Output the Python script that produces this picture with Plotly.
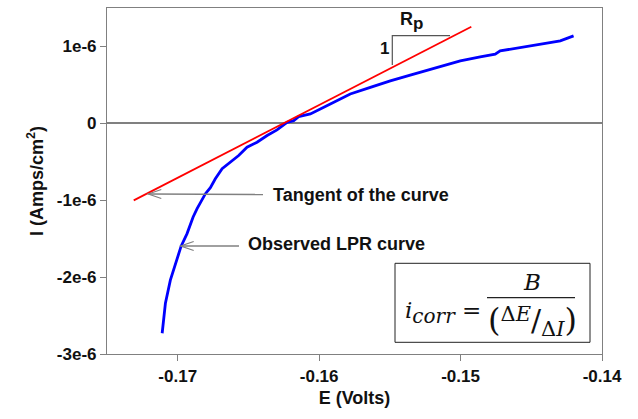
import plotly.graph_objects as go

# Observed LPR curve (E in volts, I in A/cm^2)
E_obs = [-0.17110, -0.17087, -0.17052, -0.17016, -0.16976, -0.16934, -0.16891,
         -0.16863, -0.16828, -0.16804, -0.16769, -0.16734, -0.16686, -0.16628,
         -0.16569, -0.16510, -0.16439, -0.16368, -0.16298, -0.16227, -0.16180,
         -0.16145, -0.16062, -0.15921, -0.15780, -0.15638, -0.15497, -0.15356,
         -0.15214, -0.15108, -0.15002, -0.14861, -0.14755, -0.14720, -0.14578,
         -0.14437, -0.14295, -0.14201]
I_obs = [-2.730e-6, -2.341e-6, -2.039e-6, -1.822e-6, -1.598e-6, -1.434e-6, -1.218e-6,
         -1.110e-6, -1.002e-6, -0.915e-6, -0.837e-6, -0.721e-6, -0.591e-6, -0.506e-6,
         -0.419e-6, -0.311e-6, -0.246e-6, -0.159e-6, -0.086e-6, 0.013e-6, 0.035e-6,
         0.087e-6, 0.122e-6, 0.251e-6, 0.381e-6, 0.467e-6, 0.553e-6, 0.627e-6,
         0.705e-6, 0.757e-6, 0.813e-6, 0.865e-6, 0.900e-6, 0.942e-6, 0.985e-6,
         1.029e-6, 1.072e-6, 1.137e-6]

# Tangent line
E_tan = [-0.17311, -0.14924]
I_tan = [-1.002e-6, 1.257e-6]

x_ticks = [-0.17, -0.16, -0.15, -0.14]
x_tick_text = ["-0.17", "-0.16", "-0.15", "-0.14"]
y_ticks = [-3e-6, -2e-6, -1e-6, 0, 1e-6]
y_tick_text = ["-3e-6", "-2e-6", "-1e-6", "0", "1e-6"]

X_RANGE = [-0.175, -0.14]
Y_RANGE = [-3e-6, 1.5e-6]

W, H = 638, 419
ML, MR, MT, MB = 107, 36, 8, 65
PW = W - ML - MR
PH = H - MT - MB


def px(xp):
    return X_RANGE[0] + (xp - ML) / PW * (X_RANGE[1] - X_RANGE[0])


def py(yp):
    return Y_RANGE[1] - (yp - MT) / PH * (Y_RANGE[1] - Y_RANGE[0])


fig = go.Figure()
fig.add_trace(go.Scatter(x=E_obs, y=I_obs, mode="lines",
                         line=dict(color="#0000FF", width=2.8), showlegend=False))
fig.add_trace(go.Scatter(x=E_tan, y=I_tan, mode="lines",
                         line=dict(color="#FF0000", width=1.8), showlegend=False))

sans = dict(family="Liberation Sans, Arial, sans-serif", size=17, color="#111111")
gray = "#808080"
shapes = []
annotations = []

# Rp triangle
shapes.append(dict(type="path", xref="x", yref="y",
                   path=f"M {px(392.3)},{py(65)} L {px(392.3)},{py(35.7)} L {px(450)},{py(35.7)}",
                   line=dict(color="#555555", width=1.2)))
annotations.append(dict(x=px(384), y=py(48), xref="x", yref="y", text="<b>1</b>",
                        showarrow=False, font=sans))
annotations.append(dict(x=px(411), y=py(21), xref="x", yref="y",
                        text="<b>R<sub><span style='font-size:17px'>p</span></sub></b>",
                        showarrow=False, font=dict(sans, size=18)))

# arrows
def arrow(tipx, tipy, tailx, taily):
    shapes.append(dict(type="line", xref="x", yref="y", x0=px(tipx), y0=py(tipy),
                       x1=px(tailx), y1=py(taily), line=dict(color=gray, width=1.5)))
    shapes.append(dict(type="path", xref="x", yref="y",
                       path=f"M {px(tipx + 13)},{py(tipy - 4.5)} L {px(tipx)},{py(tipy)} L {px(tipx + 13)},{py(tipy + 4.5)}",
                       line=dict(color=gray, width=1.2)))

arrow(148.3, 194, 263, 194.5)
arrow(180.7, 246, 239, 246)

annotations.append(dict(x=px(271), y=py(195), xref="x", yref="y", xanchor="left",
                        text="<b>Tangent of the curve</b>", showarrow=False, font=dict(sans, size=18)))
annotations.append(dict(x=px(246), y=py(244), xref="x", yref="y", xanchor="left",
                        text="<b>Observed LPR curve</b>", showarrow=False, font=dict(sans, size=18)))

# formula box
shapes.append(dict(type="rect", xref="x", yref="y", x0=px(395), y0=py(263.3), x1=px(590), y1=py(342.3),
                   line=dict(color="#222222", width=1), fillcolor="white", layer="above"))
shapes.append(dict(type="line", xref="x", yref="y", x0=px(487), y0=py(297.7), x1=px(575), y1=py(297.7),
                   line=dict(color="#222222", width=1.2)))
serif = dict(family="DejaVu Serif, Liberation Serif, serif", size=23, color="#111111", weight="normal")
annotations.append(dict(x=px(403), y=py(312), xref="x", yref="y", xanchor="left",
                        text="<i>i</i><sub><span style='font-size:20px'><i>corr</i></span></sub> =",
                        showarrow=False, font=serif))
annotations.append(dict(x=px(532), y=py(282), xref="x", yref="y",
                        text="<i>B</i>", showarrow=False, font=serif))
annotations.append(dict(x=px(532), y=py(321), xref="x", yref="y",
                        text="<span style='font-size:32px'>(</span>"
                             "<sup><span style='font-size:21px'>Δ<i>E</i></span></sup>"
                             "<span style='font-size:30px'>/</span>"
                             "<sub><span style='font-size:21px'>Δ<i>I</i></span></sub>"
                             "<span style='font-size:32px'>)</span>",
                        showarrow=False, font=serif))

fig.update_layout(
    width=W, height=H,
    margin=dict(l=ML, r=MR, t=MT, b=MB),
    paper_bgcolor="white", plot_bgcolor="white",
    shapes=shapes, annotations=annotations,
    font=sans,
)
fig.update_xaxes(range=X_RANGE, tickvals=x_ticks, ticktext=[f"<b>{t}</b>" for t in x_tick_text],
                 showline=True, linecolor=gray, linewidth=1.2, mirror=True,
                 ticks="outside", ticklen=6, tickcolor=gray, showgrid=False, zeroline=False,
                 tickfont=sans,
                 title=dict(text="<b>E (Volts)</b>", font=dict(sans, size=18), standoff=6))
fig.update_yaxes(range=Y_RANGE, tickvals=y_ticks, ticktext=[f"<b>{t}</b>" for t in y_tick_text],
                 showline=True, linecolor=gray, linewidth=1.2, mirror=True,
                 ticks="outside", ticklen=6, tickcolor=gray, showgrid=False,
                 zeroline=True, zerolinecolor=gray, zerolinewidth=1.5,
                 tickfont=sans,
                 title=dict(text="<b>I (Amps/cm<sup>2</sup>)</b>", font=dict(sans, size=18), standoff=8))

fig.write_html("out.html")
